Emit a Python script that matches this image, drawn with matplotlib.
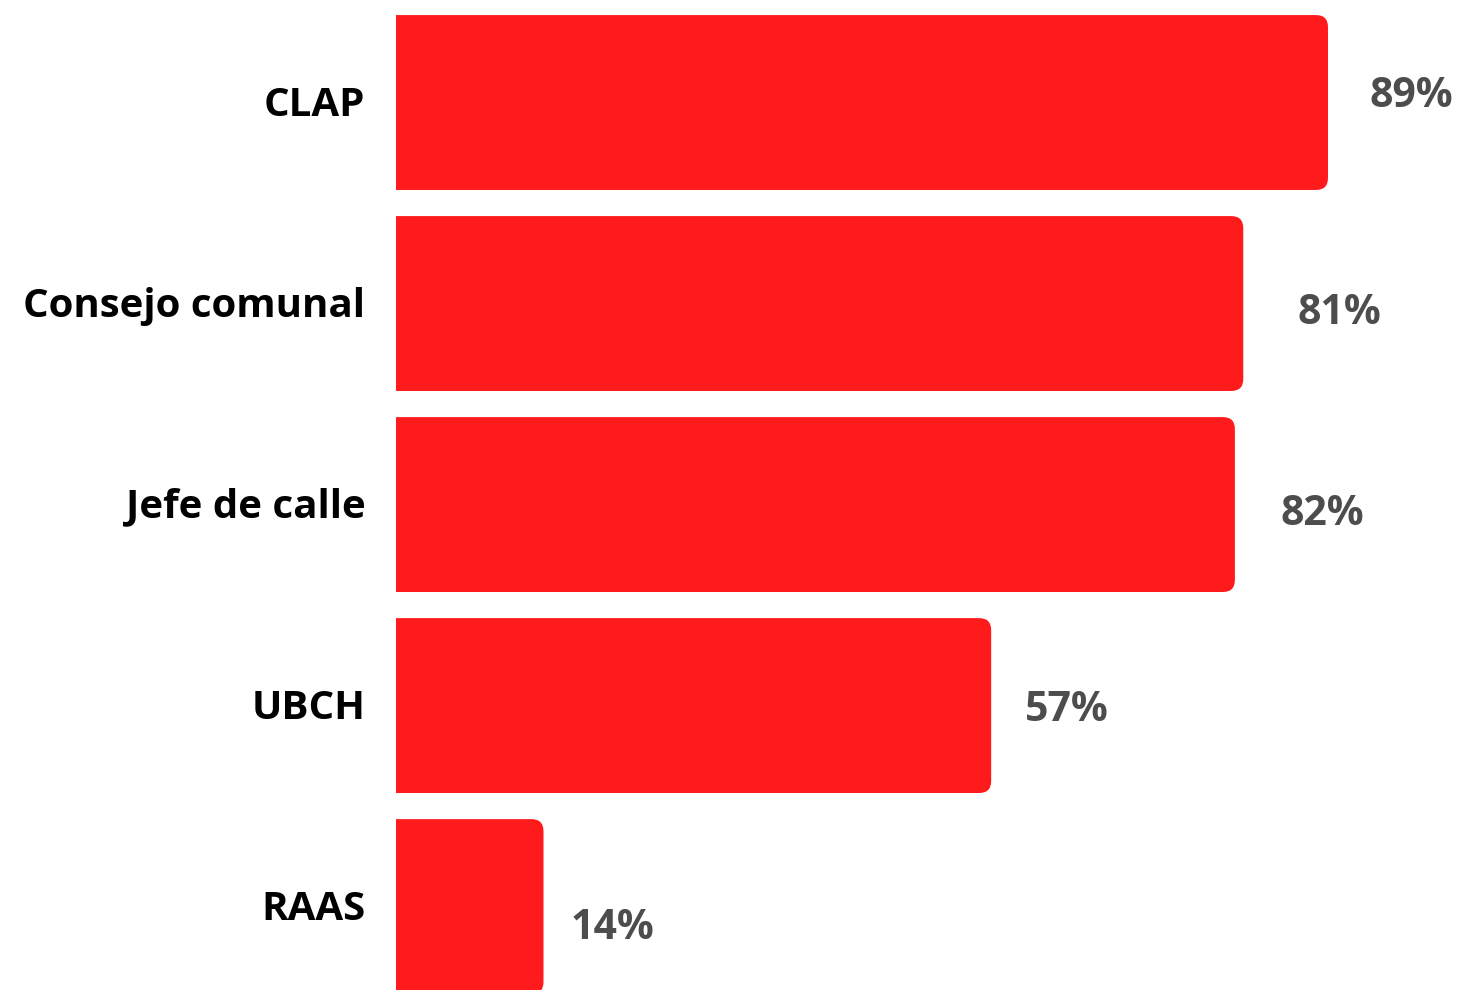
import matplotlib.pyplot as plt
import matplotlib.transforms as mtransforms
from matplotlib.patches import FancyBboxPatch

categories = ["CLAP", "Consejo comunal", "Jefe de calle", "UBCH", "RAAS"]
values = [89.1, 81.0, 80.2, 56.9, 14.1]
labels = ["89%", "81%", "82%", "57%", "14%"]

# label nudges in pixels (the source placed them a bit unevenly)
label_dx = [42, 54, 46, 34, 27]
label_dy = [6, -10, -10, -5, -22]

bar_color = "#ff1a1c"
plt.rcParams['font.family'] = ['Open Sans', 'DejaVu Sans']

fig = plt.figure(figsize=(14.61, 9.9), dpi=100)
# axes spans from the bar baseline to the right edge
left = 396 / 1461
ax = fig.add_axes([left, 0, 1 - left, 1])

y = list(range(len(categories)))
bars = ax.barh(y, values, height=0.87, color=bar_color)

ax.set_xlim(0, (1461 - 396) / 10.46)
ax.set_ylim(4.415, -0.51)

# rounded right corners; left side goes past the axes edge and gets clipped
rx = 12 / 10.46
ry = 12 / 201
for b in bars:
    x0, y0 = b.get_x(), b.get_y()
    w, h = b.get_width(), b.get_height()
    b.set_visible(False)
    p = FancyBboxPatch((x0 - 3 * rx, y0), w + 3 * rx, h,
                       boxstyle=f"round,pad=0,rounding_size={rx}",
                       mutation_aspect=ry / rx,
                       fc=bar_color, ec="none")
    ax.add_patch(p)

for yi, v, lab, dx, dy in zip(y, values, labels, label_dx, label_dy):
    ax.annotate(lab, (v, yi), xytext=(dx, dy), textcoords="offset pixels",
                va="center", ha="left", fontsize=29.5, fontweight="bold",
                color="#4d4d4d")

ax.set_yticks(y)
ax.set_yticklabels(categories, fontsize=29, fontweight="bold", color="black",
                   va="center")
ax.tick_params(axis="y", length=0, pad=22)
shift = mtransforms.ScaledTranslation(0, -2.5 / 100, fig.dpi_scale_trans)
for t in ax.get_yticklabels():
    t.set_transform(t.get_transform() + shift)
ax.set_xticks([])
for s in ax.spines.values():
    s.set_visible(False)

fig.savefig("out.png", dpi=100)
